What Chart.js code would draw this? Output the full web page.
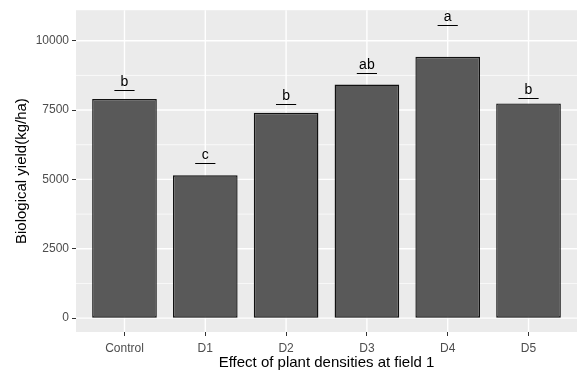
<!DOCTYPE html>
<html>
<head>
<meta charset="utf-8">
<script src="https://cdn.jsdelivr.net/npm/chart.js@4/dist/chart.umd.min.js"></script>
<style>
  body { margin: 0; background: #fff; }
  #wrap { width: 580px; height: 376px; }
</style>
</head>
<body>
<div id="wrap"><canvas id="yieldChart" width="580" height="376"></canvas></div>
<script>
// data
const categories = ["Control", "D1", "D2", "D3", "D4", "D5"];
const yieldValues = [7900, 5150, 7400, 8420, 9420, 7740];
const groupLetters = ["b", "c", "b", "ab", "a", "b"];
const letterHeights = [8210, 5600, 7720, 8850, 10560, 7950];
const yTicks = [0, 2500, 5000, 7500, 10000];
const yMinor = [1250, 3750, 6250, 8750];

const FONT = "'Liberation Sans', Arial, sans-serif";

// grey ggplot-like panel with white grid, drawn under the bars
const panelPlugin = {
  id: "panel",
  beforeDraw(chart) {
    const { ctx, chartArea, scales } = chart;
    const { left, right, top, bottom } = chartArea;
    ctx.save();
    ctx.fillStyle = "#EBEBEB";
    ctx.fillRect(left, top, right - left, bottom - top);
    ctx.strokeStyle = "#FFFFFF";
    ctx.lineWidth = 0.7;
    yMinor.forEach((v) => {
      const y = scales.y.getPixelForValue(v);
      ctx.beginPath();
      ctx.moveTo(left, y);
      ctx.lineTo(right, y);
      ctx.stroke();
    });
    ctx.lineWidth = 1.4;
    yTicks.forEach((v) => {
      const y = scales.y.getPixelForValue(v);
      ctx.beginPath();
      ctx.moveTo(left, y);
      ctx.lineTo(right, y);
      ctx.stroke();
    });
    categories.forEach((c, i) => {
      const x = scales.x.getPixelForValue(i);
      ctx.beginPath();
      ctx.moveTo(x, top);
      ctx.lineTo(x, bottom);
      ctx.stroke();
    });
    ctx.restore();
  },
};

// significance letters with a short bar underneath
const lettersPlugin = {
  id: "letters",
  afterDatasetsDraw(chart) {
    const { ctx, scales } = chart;
    ctx.save();
    ctx.strokeStyle = "#000";
    ctx.fillStyle = "#000";
    ctx.lineWidth = 1;
    ctx.font = "14px " + FONT;
    ctx.textAlign = "center";
    ctx.textBaseline = "alphabetic";
    groupLetters.forEach((letter, i) => {
      const y = Math.round(scales.y.getPixelForValue(letterHeights[i])) + 0.5;
      const x1 = scales.x.getPixelForValue(i - 0.125);
      const x2 = scales.x.getPixelForValue(i + 0.125);
      ctx.beginPath();
      ctx.moveTo(x1, y);
      ctx.lineTo(x2, y);
      ctx.stroke();
      ctx.fillText(letter, scales.x.getPixelForValue(i), y - 5);
    });
    ctx.restore();
  },
};

new Chart(document.getElementById("yieldChart"), {
  type: "bar",
  data: {
    datasets: [
      {
        data: yieldValues.map((v, i) => ({ x: i, y: v })),
        backgroundColor: "#595959",
        borderColor: "#111111",
        borderWidth: 1.4,
        borderSkipped: false,
        barPercentage: 0.8,
        categoryPercentage: 1,
      },
    ],
  },
  options: {
    responsive: false,
    animation: false,
    layout: { padding: { top: 7, right: 3, left: 0, bottom: 0 } },
    plugins: { legend: { display: false }, tooltip: { enabled: false } },
    scales: {
      x: {
        type: "linear",
        min: -0.6,
        max: 5.6,
        offset: false,
        afterBuildTicks: (s) => {
          s.ticks = categories.map((c, i) => ({ value: i }));
        },
        afterFit: (s) => {
          s.height = 44;
        },
        grid: {
          offset: false,
          drawOnChartArea: false,
          drawTicks: true,
          tickLength: 4,
          tickColor: "#333333",
          tickWidth: 1,
        },
        border: { display: false },
        ticks: {
          autoSkip: false,
          maxRotation: 0,
          padding: 5,
          color: "#4D4D4D",
          font: { family: FONT, size: 12 },
          callback: (v) => categories[v],
        },
        title: {
          display: true,
          text: "Effect of plant densities at field 1",
          color: "#000",
          font: { family: FONT, size: 15 },
          padding: { top: 0, bottom: 4 },
        },
      },
      y: {
        min: -500,
        max: 11100,
        afterBuildTicks: (s) => {
          s.ticks = yTicks.map((v) => ({ value: v }));
        },
        afterFit: (s) => {
          s.width = 76;
        },
        grid: {
          drawOnChartArea: false,
          drawTicks: true,
          tickLength: 4,
          tickColor: "#333333",
          tickWidth: 1,
        },
        border: { display: false },
        ticks: {
          padding: 3,
          color: "#4D4D4D",
          font: { family: FONT, size: 12 },
          callback: (v) => String(v),
        },
        title: {
          display: true,
          text: "Biological yield(kg/ha)",
          color: "#000",
          font: { family: FONT, size: 15 },
          padding: { top: 13, bottom: 0 },
        },
      },
    },
  },
  plugins: [panelPlugin, lettersPlugin],
});
</script>
</body>
</html>
